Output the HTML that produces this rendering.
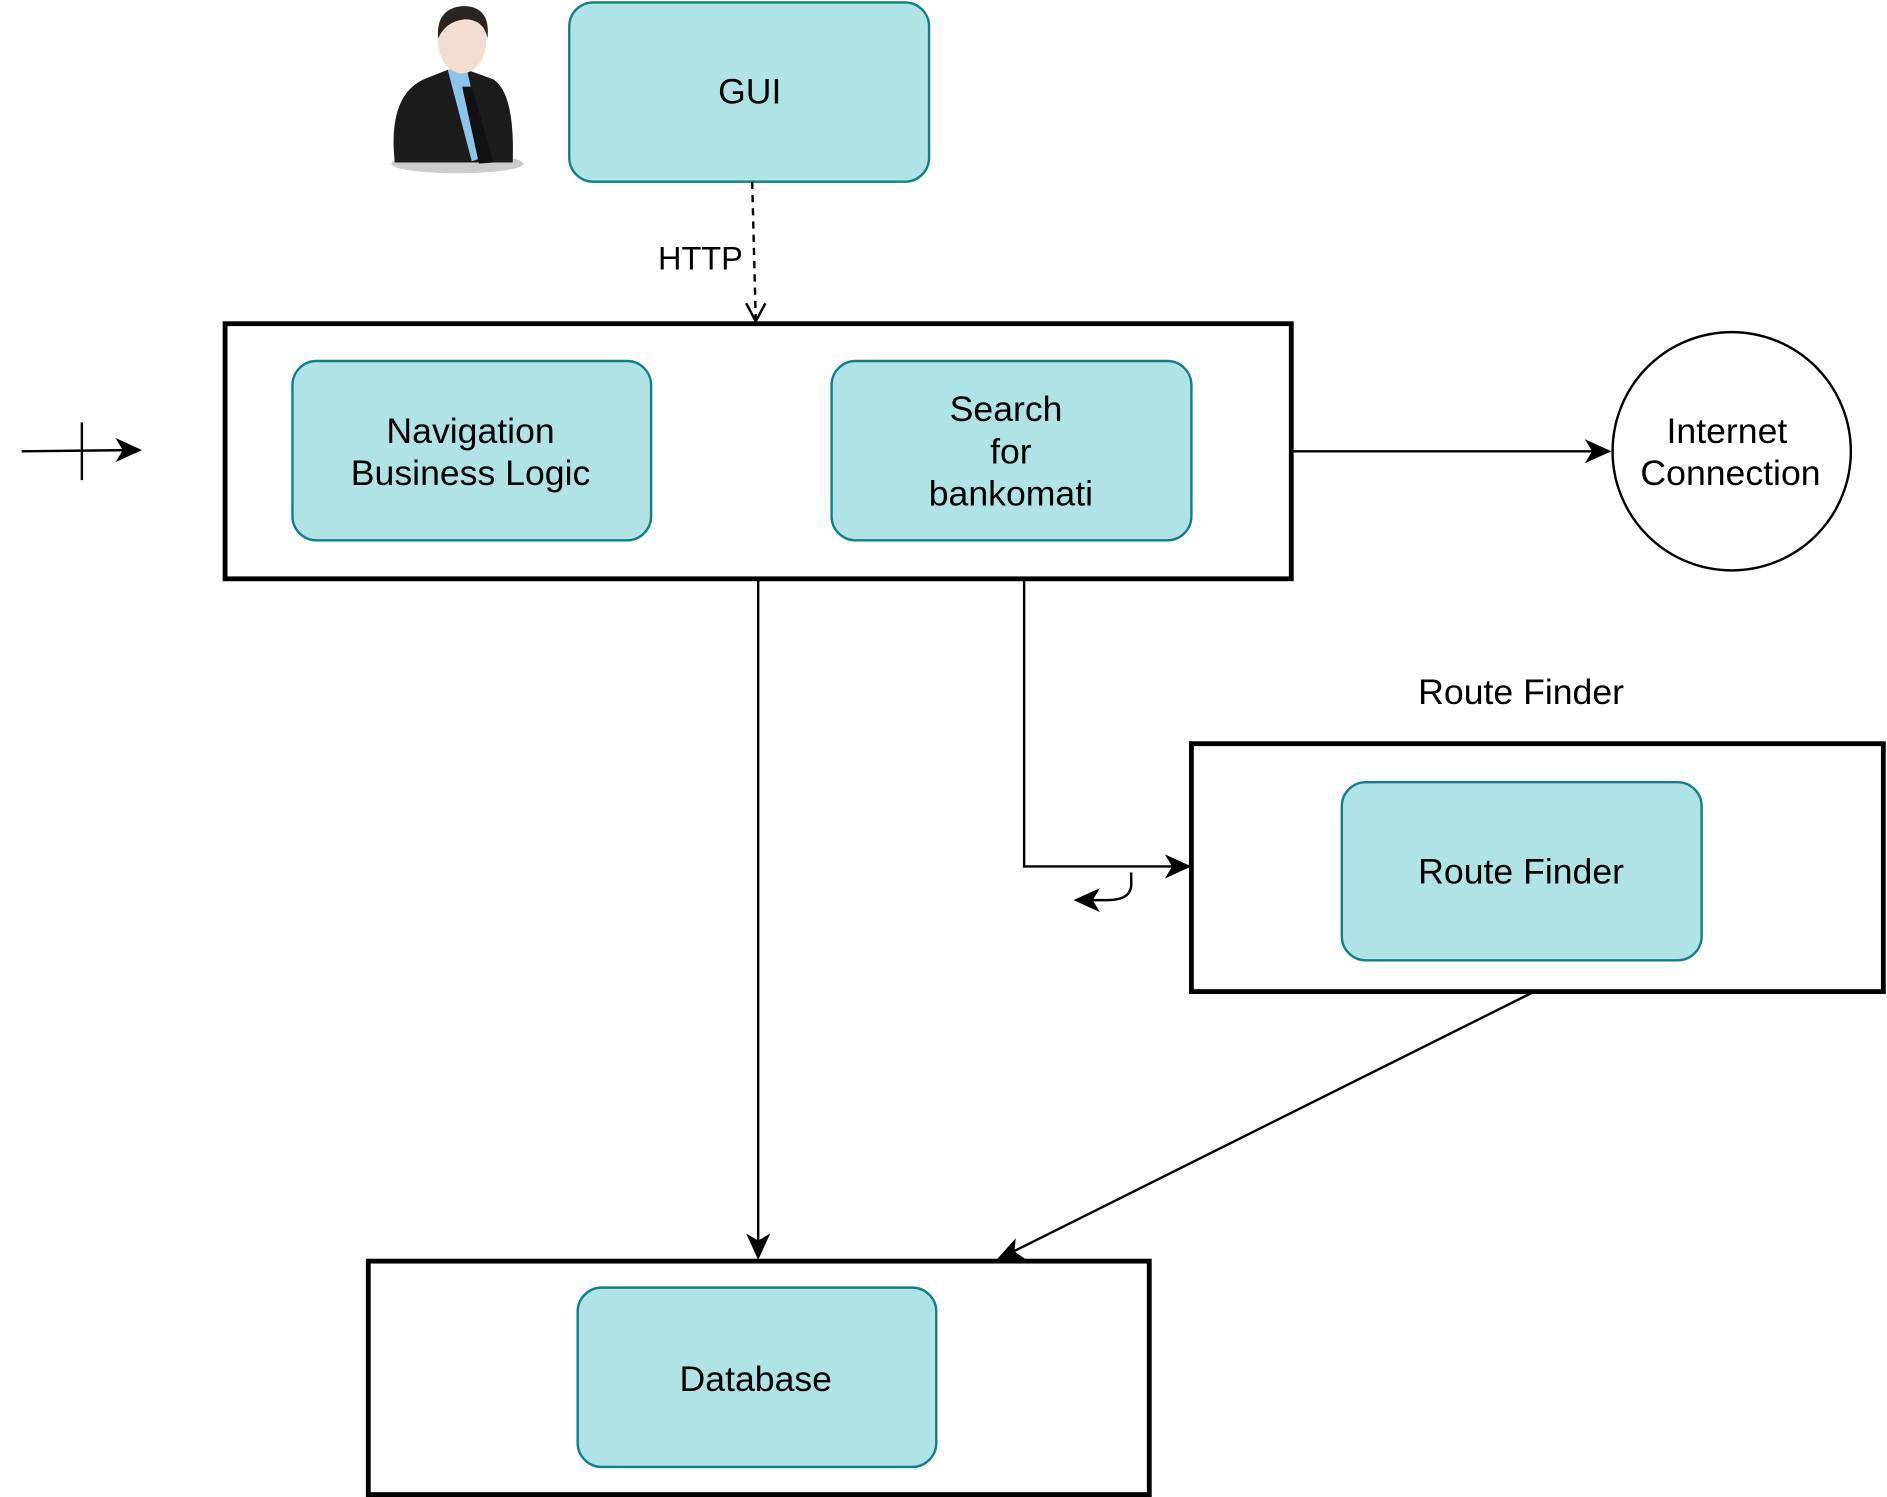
<!DOCTYPE html>
<html><head><meta charset="utf-8"><style>
html,body{margin:0;padding:0;background:#fff;}
svg{display:block;}
text{font-family:"Liberation Sans",sans-serif;font-size:29.6px;fill:#000;}
</style></head><body>
<svg width="1887" height="1497" viewBox="0 0 1568 1244" xmlns="http://www.w3.org/2000/svg">
<!-- person -->
<ellipse cx="380" cy="136" rx="55" ry="8" fill="#ccc"/>
<path d="M328 135 Q322 80 352 66 L372 58 L388 58 L410 66 Q428 78 426 135 Z" fill="#1c1c1c"/>
<path d="M372 58 L388 58 L404 130 L392 134 Z" fill="#8cc4ea"/>
<path d="M384 72 L392 72 L410 135 L398 136 Z" fill="#111"/>
<ellipse cx="384" cy="34" rx="20" ry="27" fill="#f2ddd0"/>
<path d="M364 32 Q362 6 386 5 Q408 6 405 32 Q402 16 386 16 Q370 18 364 32Z" fill="#2a2520"/>
<!-- GUI -->
<rect x="473" y="2" width="299" height="149" rx="20" fill="#b0e3e6" stroke="#0e8088" stroke-width="2"/>
<text x="623" y="86" text-anchor="middle">GUI</text>
<line x1="625" y1="151" x2="628" y2="266" stroke="#000" stroke-width="2" stroke-dasharray="6,5"/>
<path d="M620 252 L628 267 L636 252" fill="none" stroke="#000" stroke-width="2"/>
<text x="582" y="224" text-anchor="middle" style="font-size:27px">HTTP</text>
<!-- main box -->
<rect x="187" y="269" width="886" height="212" fill="#fff" stroke="#000" stroke-width="4"/>
<rect x="243" y="300" width="298" height="149" rx="20" fill="#b0e3e6" stroke="#0e8088" stroke-width="2"/>
<text x="391" y="368" text-anchor="middle">Navigation</text>
<text x="391" y="403" text-anchor="middle">Business Logic</text>
<rect x="691" y="300" width="299" height="149" rx="20" fill="#b0e3e6" stroke="#0e8088" stroke-width="2"/>
<text x="836" y="350" text-anchor="middle">Search</text>
<text x="840" y="385" text-anchor="middle">for</text>
<text x="840" y="420" text-anchor="middle">bankomati</text>
<!-- left arrow -->
<line x1="18" y1="375" x2="110" y2="374" stroke="#000" stroke-width="2"/>
<line x1="68" y1="351" x2="68" y2="399" stroke="#000" stroke-width="2"/>
<path d="M118 374 L96 364 L102 374 L96 384 Z" fill="#000"/>
<!-- to internet -->
<line x1="1073" y1="375" x2="1330" y2="375" stroke="#000" stroke-width="2"/>
<path d="M1339 375 L1317 365 L1323 375 L1317 385 Z" fill="#000"/>
<circle cx="1439" cy="375" r="99" fill="#fff" stroke="#000" stroke-width="2"/>
<text x="1435" y="368" text-anchor="middle">Internet</text>
<text x="1438" y="403" text-anchor="middle">Connection</text>
<!-- down to db -->
<line x1="630" y1="481" x2="630" y2="1038" stroke="#000" stroke-width="2"/>
<path d="M630 1047 L620 1025 L630 1031 L640 1025 Z" fill="#000"/>
<!-- search to route -->
<polyline points="851,481 851,720 982,720" fill="none" stroke="#000" stroke-width="2"/>
<path d="M990 720 L968 710 L974 720 L968 730 Z" fill="#000"/>
<path d="M940 725 L940 735 Q940 748 920 748 L900 748" fill="none" stroke="#000" stroke-width="2"/>
<path d="M892 748 L914 738 L908 748 L914 758 Z" fill="#000"/>
<!-- route finder -->
<text x="1264" y="585" text-anchor="middle">Route Finder</text>
<rect x="990" y="618" width="575" height="206" fill="#fff" stroke="#000" stroke-width="4"/>
<rect x="1115" y="650" width="299" height="148" rx="20" fill="#b0e3e6" stroke="#0e8088" stroke-width="2"/>
<text x="1264" y="734" text-anchor="middle">Route Finder</text>
<line x1="1273" y1="825" x2="836" y2="1043" stroke="#000" stroke-width="2"/>
<path d="M828 1047 L844 1029 L843 1040 L853 1047 Z" fill="#000"/>
<!-- database -->
<rect x="306" y="1048" width="649" height="194" fill="#fff" stroke="#000" stroke-width="4"/>
<rect x="480" y="1070" width="298" height="149" rx="20" fill="#b0e3e6" stroke="#0e8088" stroke-width="2"/>
<text x="628" y="1156" text-anchor="middle">Database</text>
</svg>
</body></html>
